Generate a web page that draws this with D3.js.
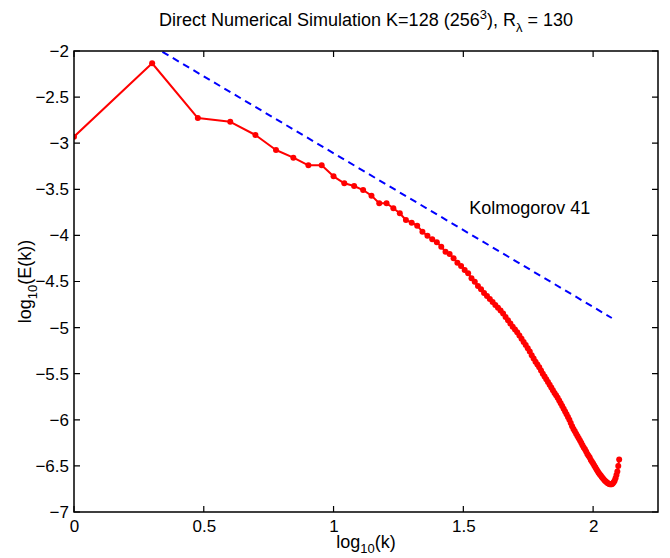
<!DOCTYPE html>
<html>
<head>
<meta charset="utf-8">
<script src="https://cdn.jsdelivr.net/npm/d3@7"></script>
<style>
  body { margin: 0; background: #fff; }
  text { font-family: "Liberation Sans", Arial, Helvetica, sans-serif; }
</style>
</head>
<body>
<div id="chart"></div>
<script>
// energy spectrum, log10(E(k)) for k = 1..126
var waveNumbers = d3.range(1, 127);
var logEnergy = [
  -2.930, -2.133, -2.727, -2.768, -2.911, -3.074, -3.157, -3.240, -3.240, -3.359,
  -3.435, -3.464, -3.508, -3.569, -3.652, -3.652, -3.706, -3.760, -3.833, -3.862,
  -3.894, -3.960, -4.003, -4.042, -4.075, -4.122, -4.177, -4.202, -4.248, -4.296,
  -4.332, -4.375, -4.411, -4.465, -4.502, -4.550, -4.585, -4.625, -4.657, -4.690,
  -4.722, -4.755, -4.785, -4.815, -4.848, -4.885, -4.920, -4.955, -4.990, -5.020,
  -5.050, -5.085, -5.120, -5.155, -5.190, -5.225, -5.260, -5.300, -5.335, -5.370,
  -5.400, -5.430, -5.465, -5.500, -5.530, -5.560, -5.590, -5.620, -5.650, -5.680,
  -5.710, -5.735, -5.760, -5.790, -5.820, -5.850, -5.880, -5.910, -5.940, -5.970,
  -6.000, -6.035, -6.070, -6.100, -6.125, -6.150, -6.175, -6.200, -6.225, -6.250,
  -6.275, -6.300, -6.320, -6.345, -6.370, -6.390, -6.410, -6.435, -6.455, -6.475,
  -6.495, -6.515, -6.535, -6.555, -6.575, -6.590, -6.605, -6.620, -6.635, -6.648,
  -6.660, -6.670, -6.680, -6.688, -6.694, -6.698, -6.700, -6.698, -6.690, -6.678,
  -6.660, -6.635, -6.600, -6.560, -6.500, -6.430
];
// Kolmogorov -5/3 reference line, end points in (log10 k, log10 E)
var k41X = [0.301, 2.072];
var k41Y = [-1.943, -4.896];

var xTicks = [0, 0.5, 1, 1.5, 2];
var yTicks = [-7, -6.5, -6, -5.5, -5, -4.5, -4, -3.5, -3, -2.5, -2];

var width = 670, height = 558;
var margin = {left: 74, right: 12, top: 51, bottom: 46};

var svg = d3.select('#chart').append('svg')
            .attr('width', width).attr('height', height);

var x = d3.scaleLinear().domain([0, 2.25]).range([margin.left, width - margin.right]);
var y = d3.scaleLinear().domain([-7, -2]).range([height - margin.bottom, margin.top]);

var fmt = function (d) { return String(d).replace('-', '\u2212'); };
var tickLen = 6;
var tickFont = '17px';
var textFont = '18px';

svg.append('clipPath').attr('id', 'plotclip')
   .append('rect')
   .attr('x', x(0)).attr('y', y(-2))
   .attr('width', x(2.25) - x(0)).attr('height', y(-7) - y(-2));

// tick labels
var axisBottom = svg.append('g')
    .attr('transform', 'translate(0,' + y(-7) + ')')
    .call(d3.axisBottom(x).tickValues(xTicks).tickSize(0).tickPadding(6).tickFormat(fmt));
var axisLeft = svg.append('g')
    .attr('transform', 'translate(' + x(0) + ',0)')
    .call(d3.axisLeft(y).tickValues(yTicks).tickSize(0).tickPadding(5).tickFormat(fmt));
[axisBottom, axisLeft].forEach(function (g) {
    g.select('.domain').remove();
    g.selectAll('.tick text').attr('fill', '#000').style('font-size', tickFont)
     .style('font-family', '"Liberation Sans", Arial, sans-serif');
});
axisBottom.selectAll('.tick text').attr('dy', '0.85em');

var plot = svg.append('g').attr('clip-path', 'url(#plotclip)');

// spectrum
var pts = waveNumbers.map(function (k, i) { return [Math.log10(k), logEnergy[i]]; });
var line = d3.line().x(function (d) { return x(d[0]); }).y(function (d) { return y(d[1]); });

plot.append('path')
    .datum(pts)
    .attr('d', line)
    .attr('fill', 'none')
    .attr('stroke', '#ff0000')
    .attr('stroke-width', 2)
    .attr('stroke-linejoin', 'round');

plot.selectAll('circle.dot')
    .data(pts)
    .enter().append('circle')
    .attr('class', 'dot')
    .attr('cx', function (d) { return x(d[0]); })
    .attr('cy', function (d) { return y(d[1]); })
    .attr('r', 3)
    .attr('fill', '#ff0000');

// K41 line
plot.append('path')
    .datum(k41X.map(function (v, i) { return [v, k41Y[i]]; }))
    .attr('d', line)
    .attr('fill', 'none')
    .attr('stroke', '#0000ff')
    .attr('stroke-width', 2)
    .attr('stroke-dasharray', '7,5');

// axes box and inward ticks on all four sides
var x0 = x(0), x1 = x(2.25), yTop = y(-2), yBot = y(-7);
var frame = svg.append('g').attr('stroke', '#000').attr('fill', 'none');
frame.append('path')
     .attr('d', 'M' + x0 + ',' + yTop + 'H' + x1 + 'V' + yBot + 'H' + x0 + 'Z')
     .attr('stroke-width', 1.5);
xTicks.forEach(function (t) {
    frame.append('path').attr('stroke-width', 1.2)
         .attr('d', 'M' + x(t) + ',' + yBot + 'v' + (-tickLen) + 'M' + x(t) + ',' + yTop + 'v' + tickLen);
});
yTicks.forEach(function (t) {
    frame.append('path').attr('stroke-width', 1.2)
         .attr('d', 'M' + x0 + ',' + y(t) + 'h' + tickLen + 'M' + x1 + ',' + y(t) + 'h' + (-tickLen));
});

svg.append('text')
   .attr('x', x(1.523)).attr('y', y(-3.72))
   .attr('dominant-baseline', 'middle')
   .style('font-size', textFont)
   .text('Kolmogorov 41');

// title
var title = svg.append('text')
   .attr('x', (x0 + x1) / 2).attr('y', 26)
   .attr('text-anchor', 'middle')
   .style('font-size', textFont);
title.append('tspan').text('Direct Numerical Simulation K=128 (256');
title.append('tspan').attr('dy', -7).style('font-size', '13px').text('3');
title.append('tspan').attr('dy', 7).text('), R');
title.append('tspan').attr('dy', 6).style('font-size', '13px').text('\u03bb');
title.append('tspan').attr('dy', -6).text(' = 130');

// axis labels
var xl = svg.append('text')
   .attr('x', (x0 + x1) / 2).attr('y', 548)
   .attr('text-anchor', 'middle')
   .style('font-size', textFont);
xl.append('tspan').text('log');
xl.append('tspan').attr('dy', 5).style('font-size', '13px').text('10');
xl.append('tspan').attr('dy', -5).text('(k)');

var yl = svg.append('text')
   .attr('transform', 'translate(31,' + ((yTop + yBot) / 2) + ') rotate(-90)')
   .attr('text-anchor', 'middle')
   .style('font-size', textFont);
yl.append('tspan').text('log');
yl.append('tspan').attr('dy', 6).style('font-size', '13px').text('10');
yl.append('tspan').attr('dy', -6).text('(E(k))');
</script>
</body>
</html>
